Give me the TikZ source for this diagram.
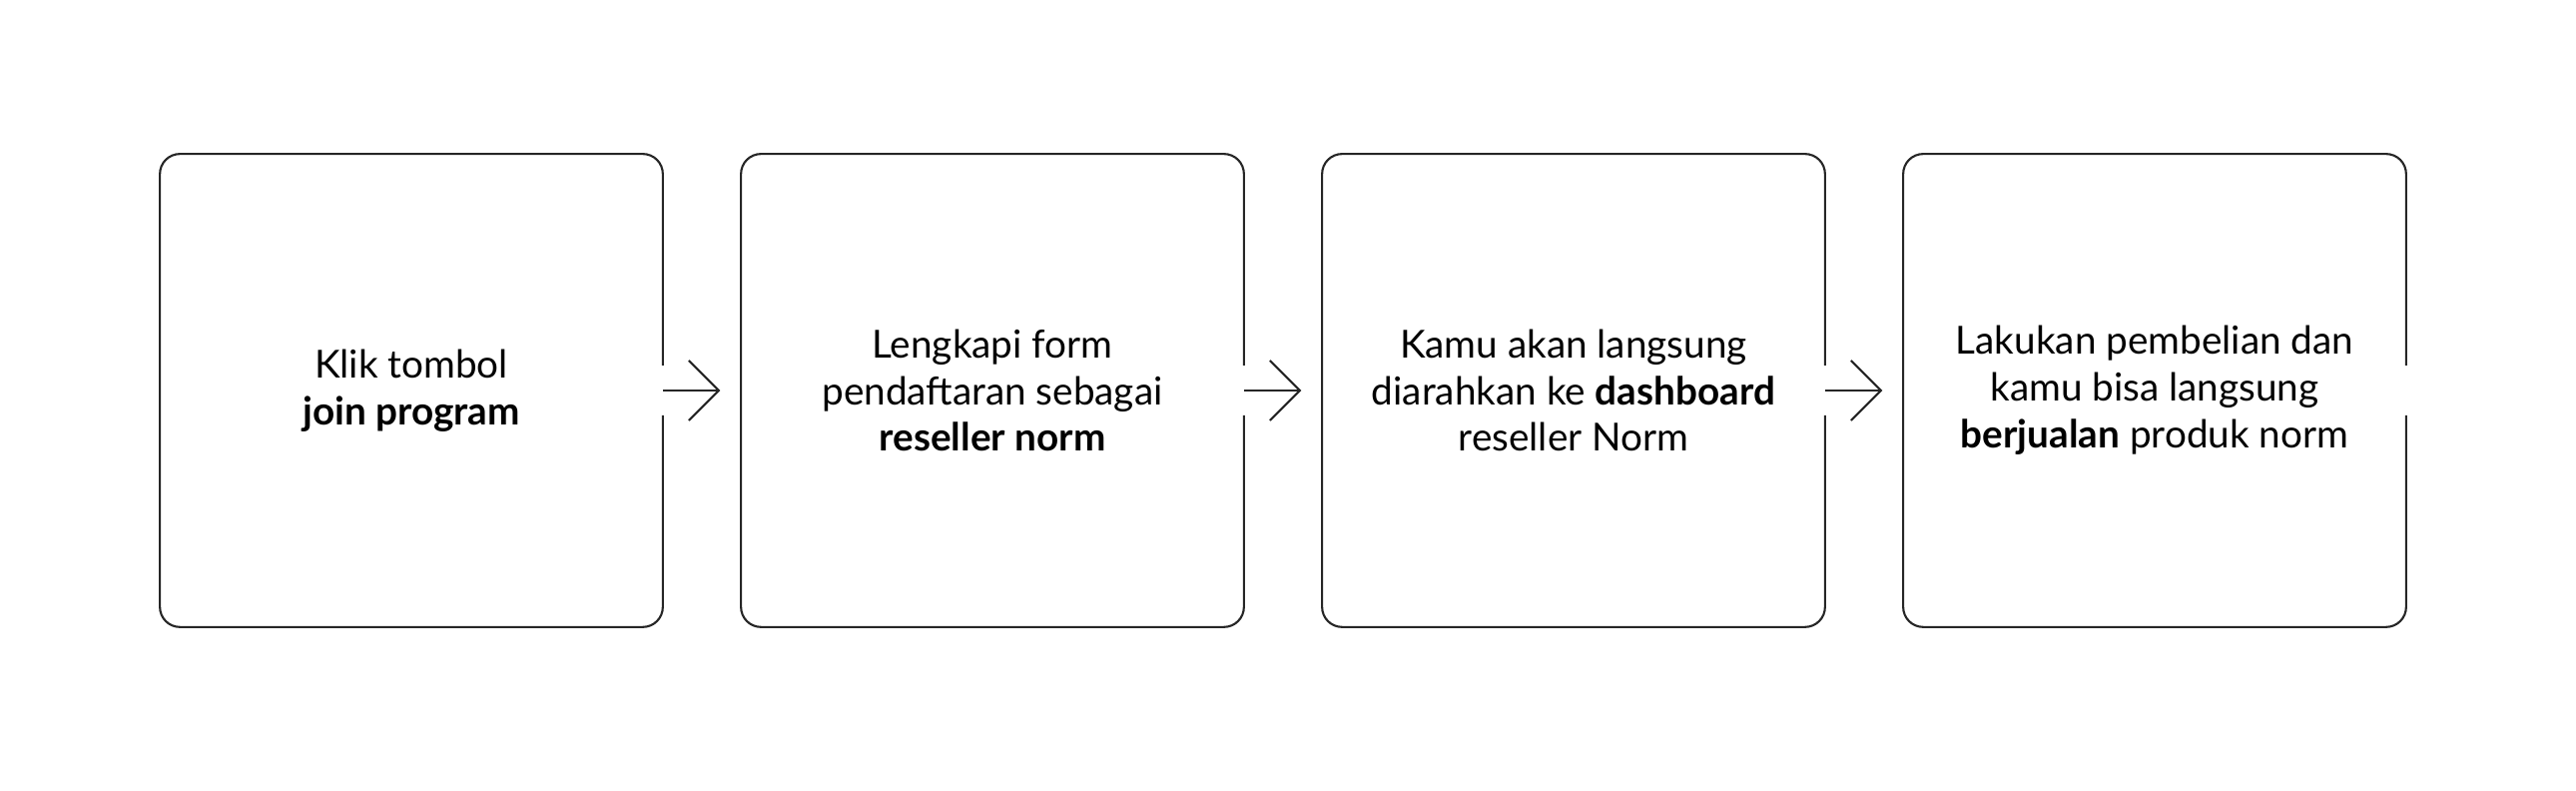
\documentclass[tikz,border=0pt]{standalone}
\usepackage{fontspec}
\setmainfont{Lato}
\begin{document}
\begin{tikzpicture}[x=0.01cm,y=0.01cm,
  stepbox/.style={rectangle,minimum width=5.02cm,minimum height=4.72cm,inner sep=0pt,
    align=center,text=black,font=\fontsize{11}{13.3}\selectfont},
  outline/.style={draw=black!85,line width=0.6pt,rounded corners=0.2cm},
  link/.style={draw=black!85,line width=0.6pt,line join=miter}]
\fill[white] (0,0) rectangle (2580,792);
\useasboundingbox (0,0) rectangle (2580,792);
\node[stepbox] (b1) at (412,401) {Klik tombol\\\textbf{join program}};
\node[stepbox] (b2) at (994,401) {Lengkapi form\\pendaftaran sebagai\\\textbf{reseller norm}};
\node[stepbox] (b3) at (1576,401) {Kamu akan langsung\\diarahkan ke \textbf{dashboard}\\reseller Norm};
\node[stepbox] (b4) at (2158,401) {Lakukan pembelian dan\\kamu bisa langsung\\\textbf{berjualan} produk norm};
\foreach \b in {b1,b2,b3,b4}{
  \draw[outline] ([yshift=0.25cm]\b.east) -- (\b.north east) -- (\b.north west)
    -- (\b.south west) -- (\b.south east) -- ([yshift=-0.25cm]\b.east);
}
\foreach \b/\t in {b1/t1,b2/t2,b3/t3}{
  \coordinate (\t) at ([xshift=0.56cm]\b.east);
  \draw[link] (\b.east) -- (\t);
  \draw[link] ([xshift=-0.3cm,yshift=0.3cm]\t) -- (\t) -- ([xshift=-0.3cm,yshift=-0.3cm]\t);
}
\end{tikzpicture}
\end{document}
